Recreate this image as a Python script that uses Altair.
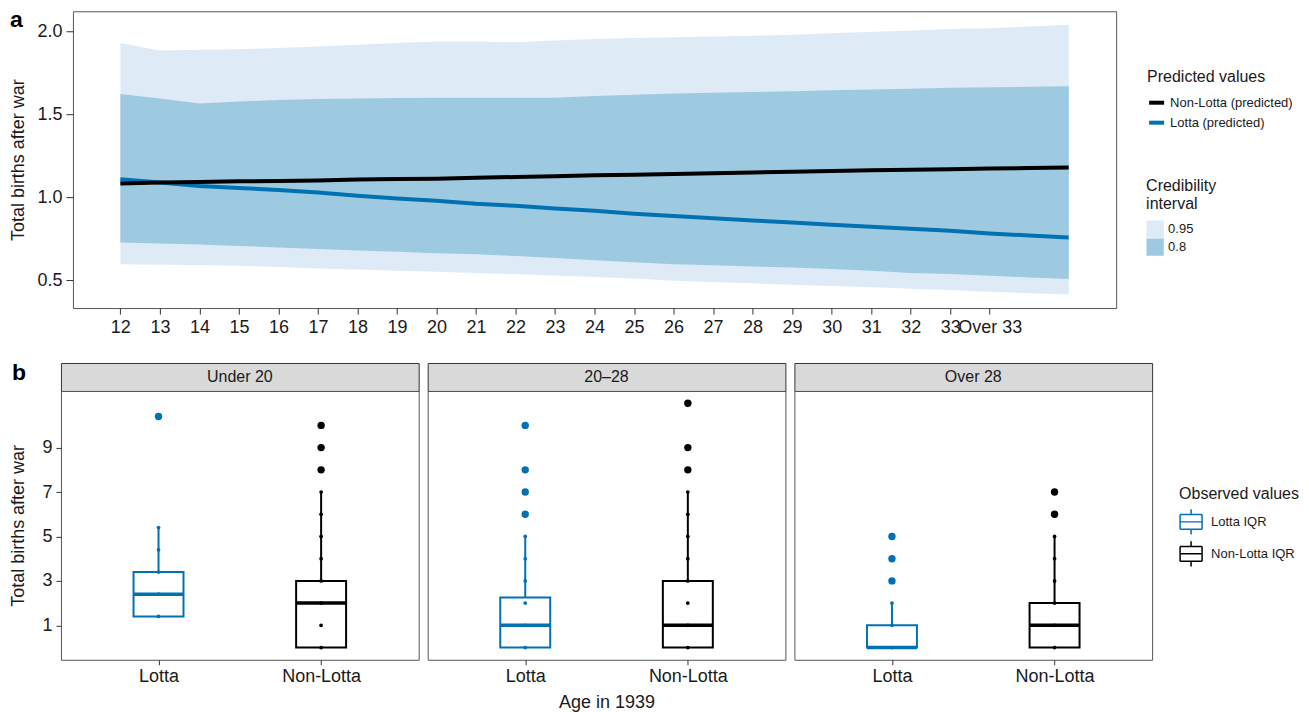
import altair as alt
import pandas as pd

FONT = "Liberation Sans"
BLUE = "#0072B2"

# ---------------- panel a : predicted values ----------------
age = list(range(12, 37))
age_ticks = list(range(12, 35))
hi95 = [1.93, 1.885, 1.89, 1.893, 1.9, 1.91, 1.92, 1.93, 1.94, 1.94, 1.935, 1.945, 1.955,
        1.96, 1.965, 1.97, 1.975, 1.98, 1.99, 1.998, 2.005, 2.015, 2.02, 2.03, 2.04]
hi80 = [1.622, 1.595, 1.566, 1.578, 1.586, 1.592, 1.596, 1.598, 1.6, 1.6, 1.6, 1.6, 1.61,
        1.618, 1.625, 1.63, 1.635, 1.64, 1.645, 1.65, 1.655, 1.66, 1.663, 1.666, 1.669]
lo80 = [0.727, 0.72, 0.715, 0.706, 0.697, 0.687, 0.678, 0.67, 0.662, 0.655, 0.645, 0.633, 0.62,
        0.607, 0.596, 0.589, 0.582, 0.576, 0.566, 0.556, 0.542, 0.536, 0.526, 0.516, 0.506]
lo95 = [0.595, 0.592, 0.59, 0.586, 0.578, 0.57, 0.563, 0.556, 0.55, 0.543, 0.536, 0.527, 0.518,
        0.51, 0.496, 0.488, 0.48, 0.472, 0.464, 0.456, 0.448, 0.44, 0.43, 0.421, 0.412]
lotta_pred = [1.108, 1.088, 1.068, 1.056, 1.044, 1.028, 1.008, 0.992, 0.978, 0.96, 0.948, 0.932,
              0.918, 0.9, 0.886, 0.873, 0.86, 0.847, 0.833, 0.821, 0.809, 0.797, 0.781, 0.769, 0.757]
nonlotta_pred = [1.082, 1.088, 1.092, 1.096, 1.098, 1.1, 1.106, 1.11, 1.112, 1.117, 1.122, 1.127,
                 1.132, 1.136, 1.14, 1.145, 1.149, 1.154, 1.158, 1.162, 1.165, 1.169, 1.173, 1.176, 1.179]
levels = ["0.95", "0.8"]
pred_groups = ["Non-Lotta (predicted)", "Lotta (predicted)"]

band_rows = []
for i, a in enumerate(age):
    band_rows.append({"age": a, "level": "0.95", "lo": lo95[i], "hi": hi95[i]})
    band_rows.append({"age": a, "level": "0.8", "lo": lo80[i], "hi": hi80[i]})
bands = pd.DataFrame(band_rows)

line_rows = []
for i, a in enumerate(age):
    line_rows.append({"age": a, "group": pred_groups[0], "value": nonlotta_pred[i]})
    line_rows.append({"age": a, "group": pred_groups[1], "value": lotta_pred[i]})
lines = pd.DataFrame(line_rows)

xa = alt.X("age:Q", scale=alt.Scale(domain=[10.8, 37.2], nice=False, zero=False),
           axis=alt.Axis(values=age_ticks, title=None, labelOverlap=False, labelFlush=False,
                         labelExpr="datum.value == 34 ? 'Over 33' : '' + datum.value",
                         tickSize=6, labelPadding=4))
ya_scale = alt.Scale(domain=[0.331, 2.122], nice=False, zero=False)
ya_axis = alt.Axis(values=[0.5, 1.0, 1.5, 2.0], format=".1f", title="Total births after war",
                   tickSize=7, labelPadding=4, titlePadding=9)

fill_scale = alt.Scale(domain=levels, range=["#DEEBF7", "#9ECAE1"])
fill_legend = alt.Legend(title=["Credibility", "interval"], orient="none", legendX=1074, legendY=167,
                         symbolType="square", symbolSize=300, symbolStrokeWidth=0, symbolOpacity=1,
                         rowPadding=0, titlePadding=8, labelFontSize=13, titleFontSize=16)
stroke_scale = alt.Scale(domain=pred_groups, range=["#000000", BLUE])
stroke_legend = alt.Legend(title="Predicted values", orient="none", legendX=1075, legendY=58,
                           symbolType="stroke", symbolStrokeWidth=4, symbolSize=225, rowPadding=2,
                           titlePadding=8, labelFontSize=13, titleFontSize=16)

band95 = alt.Chart(bands).transform_filter("datum.level == '0.95'").mark_area(opacity=1).encode(
    x=xa, y=alt.Y("lo:Q", scale=ya_scale, axis=ya_axis), y2="hi:Q",
    fill=alt.Fill("level:N", scale=fill_scale, legend=fill_legend))
band80 = alt.Chart(bands).transform_filter("datum.level == '0.8'").mark_area(opacity=1).encode(
    x=xa, y=alt.Y("lo:Q", scale=ya_scale, axis=ya_axis), y2="hi:Q",
    fill=alt.Fill("level:N", scale=fill_scale, legend=fill_legend))
line_l = alt.Chart(lines).transform_filter(f"datum.group == '{pred_groups[1]}'").mark_line(strokeWidth=4).encode(
    x=xa, y=alt.Y("value:Q", scale=ya_scale, axis=ya_axis),
    stroke=alt.Stroke("group:N", scale=stroke_scale, legend=stroke_legend))
line_n = alt.Chart(lines).transform_filter(f"datum.group == '{pred_groups[0]}'").mark_line(strokeWidth=4).encode(
    x=xa, y=alt.Y("value:Q", scale=ya_scale, axis=ya_axis),
    stroke=alt.Stroke("group:N", scale=stroke_scale, legend=stroke_legend))
label_a = alt.Chart(pd.DataFrame({"label": ["a"]})).mark_text(
    font=FONT, fontSize=23, fontWeight="bold", align="left", baseline="alphabetic", color="#000000"
).encode(text="label:N", x=alt.value(-63), y=alt.value(16))

panel_a = alt.layer(band95, band80, line_l, line_n, label_a).properties(
    width=1044, height=297,
    view=alt.ViewBackground(stroke="#555555", strokeWidth=1))

# ---------------- panel b : observed values ----------------
facets = ["Under 20", "20–28", "Over 28"]
groups = ["Lotta", "Non-Lotta"]
box_q1 = [[1.4, 0], [0, 0], [0, 0]]
box_median = [[2.4, 2], [1, 1], [0, 1]]
box_q3 = [[3.4, 3], [2.25, 3], [1, 2]]
whisker_low = [[1.4, 0], [0, 0], [0, 0]]
whisker_high = [[5.4, 7], [5, 7], [2, 5]]
obs_points = [[[1.4, 2.4, 3.4, 4.4, 5.4], [0, 1, 2, 3, 4, 5, 6, 7]],
              [[0, 1, 2, 3, 4, 5], [0, 1, 2, 3, 4, 5, 6, 7]],
              [[0, 1, 2], [0, 1, 2, 3, 4, 5]]]
outliers = [[[10.4], [8, 9, 10]],
            [[6, 7, 8, 10], [8, 9, 11]],
            [[3, 4, 5], [6, 7]]]

box_rows, pt_rows, out_rows = [], [], []
for fi, f in enumerate(facets):
    for gi, g in enumerate(groups):
        box_rows.append({"facet": f, "group": g, "q1": box_q1[fi][gi], "med": box_median[fi][gi],
                         "q3": box_q3[fi][gi], "wlo": whisker_low[fi][gi], "whi": whisker_high[fi][gi]})
        for v in obs_points[fi][gi]:
            pt_rows.append({"facet": f, "group": g, "value": v})
        for v in outliers[fi][gi]:
            out_rows.append({"facet": f, "group": g, "value": v})
boxes = pd.DataFrame(box_rows)
pts = pd.DataFrame(pt_rows)
outs = pd.DataFrame(out_rows)

color_scale = alt.Scale(domain=groups, range=[BLUE, "#000000"])
yb_scale = alt.Scale(domain=[-0.55, 11.55], nice=False, zero=False)
# legend glyph: box outline, median and whiskers drawn as separate straight segments (no fill area)
BOX_PATH = ("M-1,-0.68H1 M1,-0.68V0.68 M1,0.68H-1 M-1,0.68V-0.68 "
            "M-1,0H1 M0,-0.68V-1.15 M0,0.68V1.15")

IND = dict(color="independent", fill="independent", stroke="independent")


def panel_b(i):
    f = facets[i]
    xb = alt.X("group:N", scale=alt.Scale(type="point", domain=groups, padding=0.6),
               axis=alt.Axis(title="Age in 1939" if i == 1 else None, labelAngle=0,
                             tickSize=5, labelPadding=3, titlePadding=8))
    yaxis = alt.Axis(values=[1, 3, 5, 7, 9], title="Total births after war",
                     tickSize=5, labelPadding=4, titlePadding=14) if i == 0 else None
    leg = alt.Legend(title="Observed values", orient="none", legendX=385, legendY=95,
                     symbolType=BOX_PATH, symbolSize=484, symbolStrokeWidth=1.5,
                     symbolFillColor="transparent", labelOffset=8,
                     labelExpr="datum.label + ' IQR'", rowPadding=0, titlePadding=8,
                     labelFontSize=13, titleFontSize=16) if i == 2 else None

    def y(field):
        return alt.Y(field, scale=yb_scale, axis=yaxis)

    bx = alt.Chart(boxes).transform_filter(f"datum.facet == '{f}'")
    box = bx.mark_bar(size=50, filled=False, strokeWidth=2).encode(
        x=xb, y=y("q1:Q"), y2="q3:Q", stroke=alt.Stroke("group:N", scale=color_scale, legend=leg))
    whi = bx.mark_rule(strokeWidth=2).encode(
        x=xb, y=y("q3:Q"), y2="whi:Q", color=alt.Color("group:N", scale=color_scale, legend=None))
    wlo = bx.mark_rule(strokeWidth=2).encode(
        x=xb, y=y("wlo:Q"), y2="q1:Q", color=alt.Color("group:N", scale=color_scale, legend=None))
    med = bx.mark_tick(size=50, thickness=3.5, opacity=1).encode(
        x=xb, y=y("med:Q"), fill=alt.Fill("group:N", scale=color_scale, legend=None))
    small = alt.Chart(pts).transform_filter(f"datum.facet == '{f}'").mark_circle(size=14, opacity=1).encode(
        x=xb, y=y("value:Q"), fill=alt.Fill("group:N", scale=color_scale, legend=None))
    big = alt.Chart(outs).transform_filter(f"datum.facet == '{f}'").mark_circle(size=55, opacity=1).encode(
        x=xb, y=y("value:Q"), fill=alt.Fill("group:N", scale=color_scale, legend=None))
    panel = alt.layer(box, whi, wlo, med, small, big).properties(
        width=358, height=269, view=alt.ViewBackground(stroke="#555555", strokeWidth=1))
    strip_layers = [alt.Chart(pd.DataFrame({"facet": [f]})).mark_text(
        font=FONT, fontSize=16, color="#1A1A1A").encode(text="facet:N")]
    if i == 0:
        strip_layers.append(alt.Chart(pd.DataFrame({"label": ["b"]})).mark_text(
            font=FONT, fontSize=23, fontWeight="bold", align="left", baseline="alphabetic",
            color="#000000").encode(text="label:N", x=alt.value(-49), y=alt.value(17)))
    strip = alt.layer(*strip_layers).properties(
        width=358, height=28, view=alt.ViewBackground(fill="#D9D9D9", stroke="#333333", strokeWidth=1))
    return alt.vconcat(strip, panel, spacing=0, bounds="flush").resolve_scale(**IND).resolve_legend(**IND)


panel_bb = alt.hconcat(panel_b(0), panel_b(1), panel_b(2), spacing=7).resolve_scale(**IND).resolve_legend(**IND)


def spacer():
    return alt.Chart(pd.DataFrame({"v": [0]})).mark_point(opacity=0, size=1).properties(
        width=1, height=1, view=alt.ViewBackground(strokeOpacity=0))


row_a = alt.hconcat(spacer(), panel_a, spacing=0).resolve_scale(**IND).resolve_legend(**IND)
row_b = alt.hconcat(spacer(), panel_bb, spacing=0).resolve_scale(**IND).resolve_legend(**IND)

chart = alt.vconcat(row_a, row_b, spacing=24).resolve_scale(**IND).resolve_legend(**IND).properties(
    padding={"left": 0, "top": 0, "right": 0, "bottom": 0}
).configure(font=FONT).configure_axis(
    labelFont=FONT, titleFont=FONT, labelFontSize=18, titleFontSize=18, titleFontWeight="normal",
    labelColor="#1A1A1A", titleColor="#1A1A1A", tickColor="#333333", grid=False, domain=False
).configure_legend(
    labelFont=FONT, titleFont=FONT, labelFontSize=13, titleFontSize=16, titleFontWeight="normal",
    labelColor="#1A1A1A", titleColor="#1A1A1A"
)

chart.save("out.html", embed_options={"renderer": "svg", "actions": False})
